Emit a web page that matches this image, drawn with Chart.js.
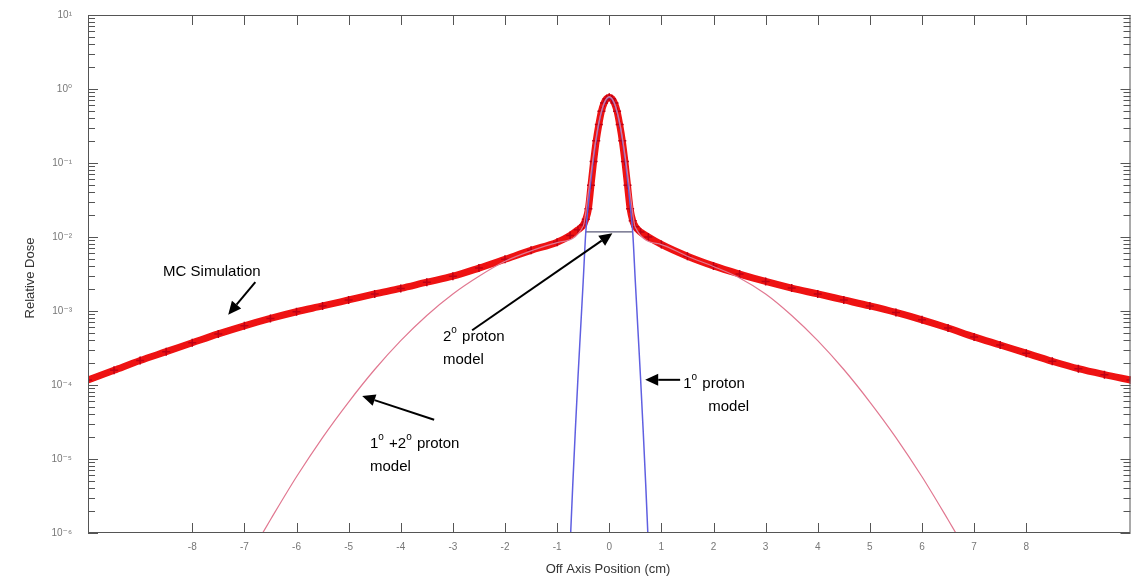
<!DOCTYPE html>
<html>
<head>
<meta charset="utf-8">
<script src="https://cdn.jsdelivr.net/npm/chart.js@4.4.1/dist/chart.umd.min.js"></script>
<style>
  html, body { margin: 0; padding: 0; background: #fff; overflow: hidden; }
  #wrap { width: 1131px; height: 586px; overflow: hidden; }
</style>
</head>
<body>
<div id="wrap"><canvas id="myChart" width="1136" height="586"></canvas></div>
<script>
// MC simulation
const mcX = [-10, -9.5, -9, -8.5, -8, -7.5, -7, -6.5, -6, -5.5, -5, -4.5, -4, -3.5, -3, -2.5, -2, -1.5, -1,
  -0.75, -0.6, -0.5, -0.45, -0.4, -0.35, -0.3, -0.25, -0.2, -0.15, -0.1, -0.05, 0,
  0.05, 0.1, 0.15, 0.2, 0.25, 0.3, 0.35, 0.4, 0.45, 0.5, 0.6, 0.75, 1,
  1.5, 2, 2.5, 3, 3.5, 4, 4.5, 5, 5.5, 6, 6.5, 7, 7.5, 8, 8.5, 9, 9.5, 10];
const mcDose = [1.17e-4, 1.58e-4, 2.14e-4, 2.82e-4, 3.72e-4, 4.90e-4, 6.31e-4, 7.94e-4, 9.77e-4, 1.17e-3,
  1.41e-3, 1.70e-3, 2.02e-3, 2.45e-3, 2.95e-3, 3.80e-3, 5.00e-3, 6.60e-3, 8.50e-3,
  1.05e-2, 1.25e-2, 1.45e-2, 1.74e-2, 2.40e-2, 5.01e-2, 0.105, 0.200, 0.331, 0.501, 0.646, 0.741, 0.776,
  0.741, 0.646, 0.501, 0.331, 0.200, 0.105, 5.01e-2, 2.40e-2, 1.66e-2, 1.38e-2, 1.17e-2, 1.00e-2, 7.94e-3,
  5.50e-3, 4.07e-3, 3.16e-3, 2.51e-3, 2.04e-3, 1.70e-3, 1.41e-3, 1.17e-3, 9.55e-4, 7.59e-4, 5.89e-4,
  4.47e-4, 3.47e-4, 2.69e-4, 2.09e-4, 1.66e-4, 1.38e-4, 1.17e-4];

// 1° proton model
const primX = [-0.74, -0.7, -0.65, -0.6, -0.55, -0.5, -0.45, -0.4, -0.3, -0.2, -0.1, 0,
  0.1, 0.2, 0.3, 0.4, 0.45, 0.5, 0.55, 0.6, 0.65, 0.7, 0.74];
const primDose = [1.0e-6, 4.47e-6, 2.51e-5, 1.26e-4, 5.62e-4, 2.51e-3, 1.17e-2, 2.82e-2, 0.120, 0.339, 0.631, 0.776,
  0.631, 0.339, 0.120, 2.82e-2, 1.17e-2, 2.51e-3, 5.62e-4, 1.26e-4, 2.51e-5, 4.47e-6, 1.0e-6];

// 2° proton model (flat top)
const secX = [-0.45, 0.45];
const secDose = [1.17e-2, 1.17e-2];

// 1° + 2° proton model
const sumX = [-6.65, -6.5, -6, -5.5, -5, -4.5, -4, -3.5, -3, -2.5, -2, -1.5, -1, -0.5, -0.4, -0.3, -0.2, -0.1, 0,
  0.1, 0.2, 0.3, 0.4, 0.5, 1, 1.5, 2, 2.5, 3, 3.5, 4, 4.5, 5, 5.5, 6, 6.5, 6.65];
const sumDose = [1.0e-6, 1.51e-6, 5.75e-6, 1.95e-5, 5.89e-5, 1.62e-4, 3.98e-4, 8.71e-4, 1.70e-3, 2.95e-3, 4.70e-3,
  6.50e-3, 8.40e-3, 1.40e-2, 4.0e-2, 0.132, 0.35, 0.64, 0.79,
  0.64, 0.35, 0.132, 4.0e-2, 1.35e-2, 7.90e-3, 5.50e-3, 4.00e-3, 2.80e-3, 1.70e-3, 8.71e-4, 3.98e-4,
  1.62e-4, 5.89e-5, 1.95e-5, 5.75e-6, 1.51e-6, 1.0e-6];

const xTicks = [-8, -7, -6, -5, -4, -3, -2, -1, 0, 1, 2, 3, 4, 5, 6, 7, 8];
const yDecades = [-6, -5, -4, -3, -2, -1, 0, 1];

const pts = (xs, ys) => xs.map((x, i) => ({ x: x, y: ys[i] }));

const sup = { '0': '⁰', '1': '¹', '2': '²', '3': '³', '4': '⁴', '5': '⁵', '6': '⁶', '7': '⁷', '8': '⁸', '9': '⁹', '-': '⁻' };
const powLabel = (e) => '10' + String(e).split('').map(c => sup[c]).join('');

// notes: [x cm, log10 dose] anchors
const notes = [
  { lines: [[['MC Simulation', 0]]], x: -8.56, ly: -2.53 },
  { lines: [[['2', 0], ['o', 1], [' proton', 0]], [['model', 0]]], x: -3.19, ly: -3.41 },
  { lines: [[['1', 0], ['o', 1], [' proton', 0]], [['model', 0]]], x: 1.42, ly: -4.04, indent: [0, 25] },
  { lines: [[['1', 0], ['o', 1], [' +2', 0], ['o', 1], [' proton', 0]], [['model', 0]]], x: -4.59, ly: -4.85 }
];
const arrows = [
  { from: [-6.79, -2.61], to: [-7.31, -3.05] },
  { from: [-2.63, -3.26], to: [0.06, -1.95] },
  { from: [1.36, -3.93], to: [0.69, -3.93] },
  { from: [-3.36, -4.47], to: [-4.74, -4.15] }
];

const decorations = {
  id: 'decorations',
  afterDraw(chart) {
    const { ctx, chartArea: a, scales: { x, y } } = chart;
    ctx.save();
    // frame
    ctx.strokeStyle = '#555';
    ctx.lineWidth = 1;
    ctx.strokeRect(a.left + 0.5, a.top + 0.5, a.right - a.left - 1, a.bottom - a.top - 1);
    // inward ticks
    ctx.beginPath();
    xTicks.forEach(v => {
      const px = Math.round(x.getPixelForValue(v)) + 0.5;
      ctx.moveTo(px, a.bottom); ctx.lineTo(px, a.bottom - 10);
      ctx.moveTo(px, a.top); ctx.lineTo(px, a.top + 10);
    });
    yDecades.forEach(e => {
      for (let k = 1; k <= 9; k++) {
        if (e === 1 && k > 1) break;
        const py = Math.round(y.getPixelForValue(k * Math.pow(10, e))) + 0.5;
        const len = k === 1 ? 10 : 7;
        ctx.moveTo(a.left, py); ctx.lineTo(a.left + len, py);
        ctx.moveTo(a.right, py); ctx.lineTo(a.right - len, py);
      }
    });
    ctx.stroke();

    // axis titles
    ctx.fillStyle = '#333';
    ctx.font = '13px Arial, "Liberation Sans", sans-serif';
    ctx.textAlign = 'center';
    ctx.textBaseline = 'middle';
    ctx.fillText('Off Axis Position (cm)', 608, 569);
    ctx.save();
    ctx.translate(30, (a.top + a.bottom) / 2 + 4);
    ctx.rotate(-Math.PI / 2);
    ctx.fillText('Relative Dose', 0, 0);
    ctx.restore();

    // notes
    ctx.fillStyle = '#000';
    ctx.textAlign = 'left';
    ctx.textBaseline = 'alphabetic';
    notes.forEach(n => {
      const px = x.getPixelForValue(n.x);
      const py = y.getPixelForValue(Math.pow(10, n.ly));
      n.lines.forEach((segs, li) => {
        let cx = px + (n.indent ? n.indent[li] : 0);
        const by = py + li * 23;
        segs.forEach(([t, s]) => {
          ctx.font = s ? '10px Arial, "Liberation Sans", sans-serif' : '15px Arial, "Liberation Sans", sans-serif';
          ctx.fillText(t, cx, s ? by - 8 : by);
          cx += ctx.measureText(t).width + (s ? 1 : 0);
        });
      });
    });

    // arrows
    ctx.strokeStyle = '#000';
    ctx.lineWidth = 2;
    arrows.forEach(ar => {
      const x1 = x.getPixelForValue(ar.from[0]), y1 = y.getPixelForValue(Math.pow(10, ar.from[1]));
      const x2 = x.getPixelForValue(ar.to[0]), y2 = y.getPixelForValue(Math.pow(10, ar.to[1]));
      const ang = Math.atan2(y2 - y1, x2 - x1);
      const hl = 13, hw = 6;
      const bx = x2 - hl * Math.cos(ang), by = y2 - hl * Math.sin(ang);
      ctx.beginPath(); ctx.moveTo(x1, y1); ctx.lineTo(bx, by); ctx.stroke();
      ctx.beginPath();
      ctx.moveTo(x2, y2);
      ctx.lineTo(bx + hw * Math.sin(ang), by - hw * Math.cos(ang));
      ctx.lineTo(bx - hw * Math.sin(ang), by + hw * Math.cos(ang));
      ctx.closePath(); ctx.fill();
    });
    ctx.restore();
  }
};

const ctx = document.getElementById('myChart');

new Chart(ctx, {
  type: 'line',
  data: {
    datasets: [
      {
        label: '1° + 2° proton model',
        data: pts(sumX, sumDose),
        borderColor: 'rgb(225, 120, 145)',
        borderWidth: 1.2,
        pointRadius: 0,
        cubicInterpolationMode: 'monotone',
      },
      {
        label: '1° proton model',
        data: pts(primX, primDose),
        borderColor: 'rgb(95, 95, 225)',
        borderWidth: 1.5,
        pointRadius: 0,
        cubicInterpolationMode: 'monotone',
      },
      {
        label: 'MC Simulation',
        data: pts(mcX, mcDose),
        borderColor: 'rgb(238, 18, 18)',
        borderWidth: 7,
        pointStyle: 'cross',
        pointRadius: 4,
        pointBorderWidth: 1.5,
        pointBorderColor: 'rgb(190, 0, 20)',
        cubicInterpolationMode: 'monotone',
      },
      {
        label: '2° proton model',
        data: pts(secX, secDose),
        borderColor: 'rgb(90, 90, 120)',
        borderWidth: 1.2,
        pointRadius: 0,
      },
    ],
  },
  options: {
    responsive: false,
    animation: false,
    events: [],
    layout: { padding: { left: 0, top: 15, right: 0, bottom: 0 } },
    plugins: { legend: { display: false }, tooltip: { enabled: false } },
    scales: {
      x: {
        type: 'linear',
        min: -10,
        max: 10,
        afterFit: (s) => { s.height = 53; s.paddingLeft = 0; s.paddingRight = 0; },
        afterBuildTicks: (s) => { s.ticks = xTicks.map(v => ({ value: v })); },
        grid: { display: false, drawTicks: false },
        border: { display: false },
        ticks: {
          color: '#777',
          font: { size: 10, family: 'Arial, "Liberation Sans", sans-serif' },
          padding: 8,
          maxRotation: 0,
          autoSkip: false,
        },
      },
      y: {
        type: 'logarithmic',
        min: 1e-6,
        max: 10,
        afterFit: (s) => { s.width = 88; s.paddingTop = 0; s.paddingBottom = 0; },
        afterBuildTicks: (s) => { s.ticks = yDecades.map(e => ({ value: Math.pow(10, e) })); },
        grid: { display: false, drawTicks: false },
        border: { display: false },
        ticks: {
          color: '#777',
          font: { size: 10, family: 'Arial, "Liberation Sans", "DejaVu Sans", sans-serif' },
          padding: 16,
          autoSkip: false,
          callback: (v) => powLabel(Math.round(Math.log10(v))),
        },
      },
    },
  },
  plugins: [decorations],
});
</script>
</body>
</html>
